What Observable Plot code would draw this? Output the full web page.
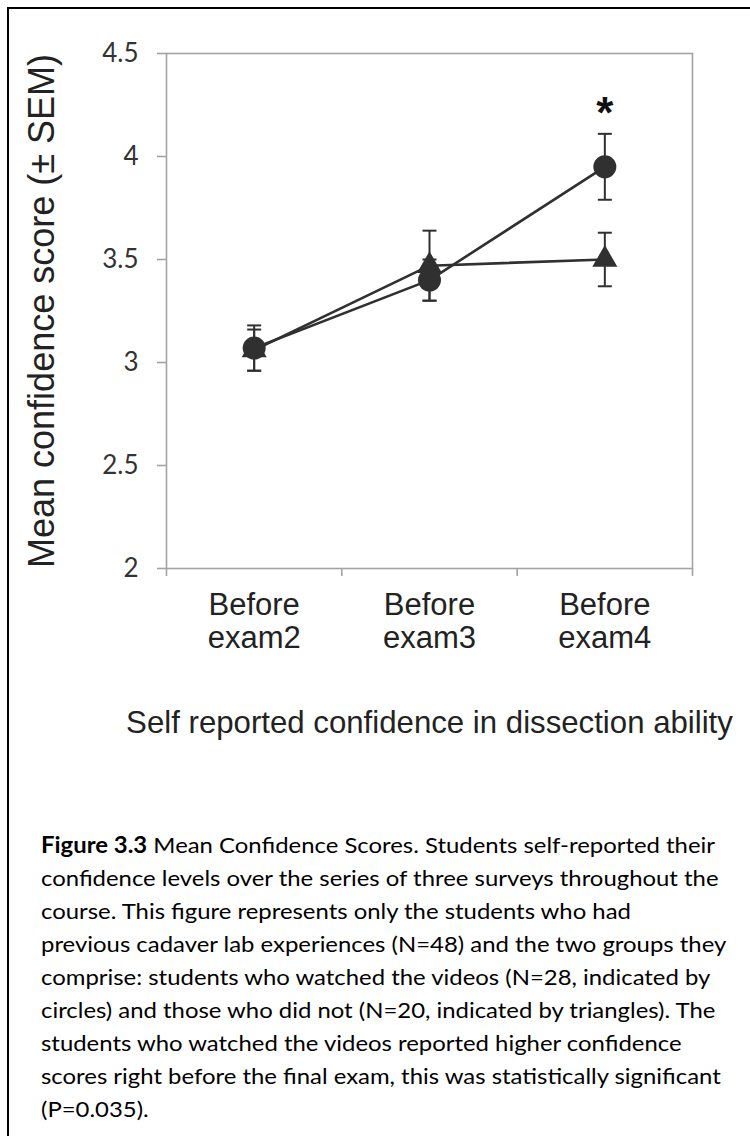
<!DOCTYPE html>
<html>
<head>
<meta charset="utf-8">
<script src="https://cdn.jsdelivr.net/npm/d3@7"></script>
<script src="https://cdn.jsdelivr.net/npm/@observablehq/plot@0.6"></script>
<style>
  html, body { margin: 0; padding: 0; background: #fff; overflow: hidden; }
  #page { position: relative; width: 750px; height: 1136px; overflow: hidden; }
  #border { position: absolute; left: 7px; top: 7px; width: 800px; height: 1200px;
            border-left: 2px solid #000; border-top: 2px solid #000; }
  #chart { position: absolute; left: 0; top: 0; }
  #caption { position: absolute; left: 41px; top: 828px; font-family: Lato, "Open Sans", sans-serif;
             font-size: 22px; line-height: 33px; color: #000; transform-origin: 0 0; white-space: nowrap; }
  #caption b { font-weight: bold; }
</style>
</head>
<body>
<div id="page">
  <div id="border"></div>
  <div id="chart"></div>
  <div id="caption"></div>
</div>
<script>
// ---- data ----
const categories = ["Before exam2", "Before exam3", "Before exam4"];
const tickLabels = ["Before\nexam2", "Before\nexam3", "Before\nexam4"];
const videoMean = [3.07, 3.40, 3.95];     // circles (watched videos)
const videoSEM = [0.11, 0.10, 0.16];
const noVideoMean = [3.06, 3.47, 3.50];   // triangles (did not watch)
const noVideoSEM = [0.10, 0.17, 0.13];
const yTicks = [2, 2.5, 3, 3.5, 4, 4.5];
const significant = ["Before exam4"];
const yLabel = "Mean confidence score (\u00B1 SEM)";
const xLabel = "Self reported confidence in dissection ability";
const captionLines = [
  "<b>Figure 3.3</b> Mean Confidence Scores. Students self-reported their",
  "confidence levels over the series of three surveys throughout the",
  "course. This figure represents only the students who had",
  "previous cadaver lab experiences (N=48) and the two groups they",
  "comprise: students who watched the videos (N=28, indicated by",
  "circles) and those who did not (N=20, indicated by triangles). The",
  "students who watched the videos reported higher confidence",
  "scores right before the final exam, this was statistically significant",
  "(P=0.035)."
];

// ---- derived tables ----
const idx = c => categories.indexOf(c) + 0.5;
const video = categories.map((c, i) => ({cat: c, group: "video", mean: videoMean[i], sem: videoSEM[i]}));
const noVideo = categories.map((c, i) => ({cat: c, group: "novideo", mean: noVideoMean[i], sem: noVideoSEM[i]}));
const all = [...noVideo, ...video];
const stars = video.filter(d => significant.includes(d.cat));
const boundaries = d3.range(categories.length + 1);

const ink = "#303030";
const gray = "#a3a3a3";
const chartFont = "'Liberation Sans', Arial, sans-serif";

const cap = { draw(ctx, size) { ctx.moveTo(-7, 0); ctx.lineTo(7, 0); } };

const plot = Plot.plot({
  width: 750,
  height: 760,
  marginLeft: 166,
  marginRight: 58,
  marginTop: 53,
  marginBottom: 192,
  style: { fontFamily: chartFont, background: "transparent", color: ink },
  x: { domain: [0, categories.length], axis: null },
  y: { domain: [2, 4.5], axis: null },
  marks: [
    Plot.frame({ stroke: gray, strokeWidth: 1.6 }),
    Plot.axisY({ ticks: yTicks, tickSize: 9, tickPadding: 19, tickFormat: d => String(d),
                 fontSize: 26, fontFamily: "Lato, sans-serif", stroke: gray, strokeWidth: 1.6, fill: "#333", label: null }),
    Plot.axisX({ ticks: boundaries, tickSize: 8, tickFormat: () => "", stroke: gray, strokeWidth: 1.6, label: null }),
    Plot.text(tickLabels, { x: (d, i) => i + 0.5, text: d => d, frameAnchor: "bottom", lineAnchor: "top",
                            dy: 23, lineHeight: 1.07, fontSize: 31, fill: "#222" }),
    Plot.text([xLabel], { frameAnchor: "bottom", text: d => d, dy: 142, lineAnchor: "top", fontSize: 31.2, fill: "#222" }),
    Plot.text([yLabel], { frameAnchor: "left", textAnchor: "middle", text: d => d, rotate: -90, dx: -124, fontSize: 36, fill: "#222" }),
    Plot.line(noVideo, { x: d => idx(d.cat), y: "mean", stroke: ink, strokeWidth: 2.6 }),
    Plot.line(video, { x: d => idx(d.cat), y: "mean", stroke: ink, strokeWidth: 2.6 }),
    Plot.ruleX(all, { x: d => idx(d.cat), y1: d => d.mean - d.sem, y2: d => d.mean + d.sem, stroke: ink, strokeWidth: 2 }),
    Plot.dot(all, { x: d => idx(d.cat), y: d => d.mean + d.sem, symbol: cap, r: 5, stroke: ink, strokeWidth: 2, fill: "none" }),
    Plot.dot(all, { x: d => idx(d.cat), y: d => d.mean - d.sem, symbol: cap, r: 5, stroke: ink, strokeWidth: 2, fill: "none" }),
    Plot.dot(noVideo, { x: d => idx(d.cat), y: "mean", symbol: "triangle", r: 9.3, fill: ink, stroke: "none" }),
    Plot.dot(video, { x: d => idx(d.cat), y: "mean", symbol: "circle", r: 11.5, fill: ink, stroke: "none" }),
    Plot.text(stars, { x: d => idx(d.cat), y: d => d.mean + d.sem, text: () => "*", dy: -20,
                       fontSize: 44, fontWeight: "bold", fill: "#111" })
  ]
});
document.getElementById("chart").appendChild(plot);

// caption
const capEl = document.getElementById("caption");
capEl.innerHTML = captionLines.map(l => `<div>${l}</div>`).join("");
const first = capEl.firstChild;
first.style.display = "inline-block";
const w = first.getBoundingClientRect().width;
first.style.display = "block";
capEl.style.transform = `scaleX(${674 / w})`;
</script>
</body>
</html>
